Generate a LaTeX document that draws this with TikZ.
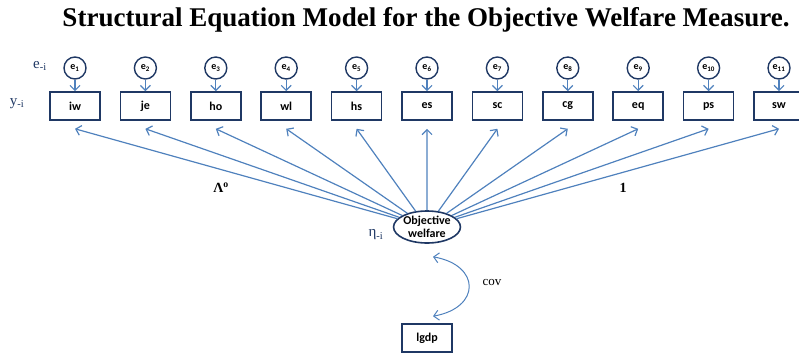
\documentclass[tikz,border=0pt]{standalone}
\usepackage{fontspec}
\setsansfont{Carlito}
\newfontfamily\labfont{Liberation Serif}
\usetikzlibrary{arrows.meta,shapes.geometric}
\definecolor{semnavy}{HTML}{1F3864}
\definecolor{semblue}{HTML}{4F81BD}
\begin{document}
\begin{tikzpicture}[
      x=1pt, y=1pt,
      obs/.style={draw=semnavy, line width=1.6pt, minimum width=50pt, minimum height=28pt,
                  font=\sffamily\bfseries\fontsize{12}{14}\selectfont, text=black},
      err/.style={circle, draw=semnavy, line width=1.4pt, minimum size=22pt, inner sep=0pt,
                  font=\sffamily\bfseries\fontsize{10}{11}\selectfont, text=black},
      lat/.style={ellipse, draw=semnavy, line width=1.6pt, minimum width=66pt, minimum height=32pt,
                  inner sep=0pt, align=center, font=\sffamily\bfseries\fontsize{12}{13}\selectfont},
      link/.style={draw=semblue, line width=1.2pt, -{Straight Barb[length=5pt,width=10pt]}},
      covlink/.style={draw=semblue, line width=1pt,
                      {Straight Barb[length=5pt,width=10pt]}-{Straight Barb[length=5pt,width=10pt]}},
      lab/.style={font=\labfont\fontsize{15}{17}\selectfont, text=semnavy}
    ]
      \useasboundingbox (0,0) rectangle (799,-356);
      \clip (0,0) rectangle (799,-356);
      \node[inner sep=0pt] (title) at (426,-20)
        {\resizebox{727pt}{!}{\labfont\bfseries\fontsize{24}{28}\selectfont
         Structural Equation Model for the Objective Welfare Measure.}};
      \foreach \lab [count=\i] in {iw,je,ho,wl,hs,es,sc,cg,eq,ps,sw} {
        \pgfmathsetmacro{\xx}{75+70.4*(\i-1)}
        \node[obs] (y\i) at (\xx,-106) {\lab};
        \node[err] (e\i) at (\xx,-68) {e\textsubscript{\i}};
        \draw[link] (e\i) -- (y\i);
      }
      \node[lat] (obj) at (427,-227) {Objective\\welfare};
      \foreach \i in {1,...,11} {
        \coordinate (t\i) at ([yshift=-8pt]y\i.south);
        \draw[link] (obj) -- (t\i);
      }
      \node[lab] (elab) at (40,-66) {e\textsubscript{-i}};
      \node[lab] (ylab) at (17,-104) {y\textsubscript{-i}};
      \node[lab] (eta) at (376,-235) {η\textsubscript{-i}};
      \node[lab, text=black, font=\labfont\bfseries\fontsize{14}{16}\selectfont] (lam) at (221,-188) {Λ\textsuperscript{o}};
      \node[lab, text=black, font=\labfont\bfseries\fontsize{14}{16}\selectfont] (one) at (623,-188) {1};
      \node[obs] (lgdp) at (427,-338) {lgdp};
      \coordinate (c1) at ([xshift=6pt,yshift=-13pt]obj.south);
      \coordinate (c2) at ([xshift=6pt,yshift=7pt]lgdp.north);
      \draw[covlink] (c1) to[out=-10,in=10,looseness=2.1] (c2);
      \node[lab, text=black, font=\labfont\fontsize{13}{15}\selectfont] (cov) at (492,-282) {cov};
\end{tikzpicture}
\end{document}
